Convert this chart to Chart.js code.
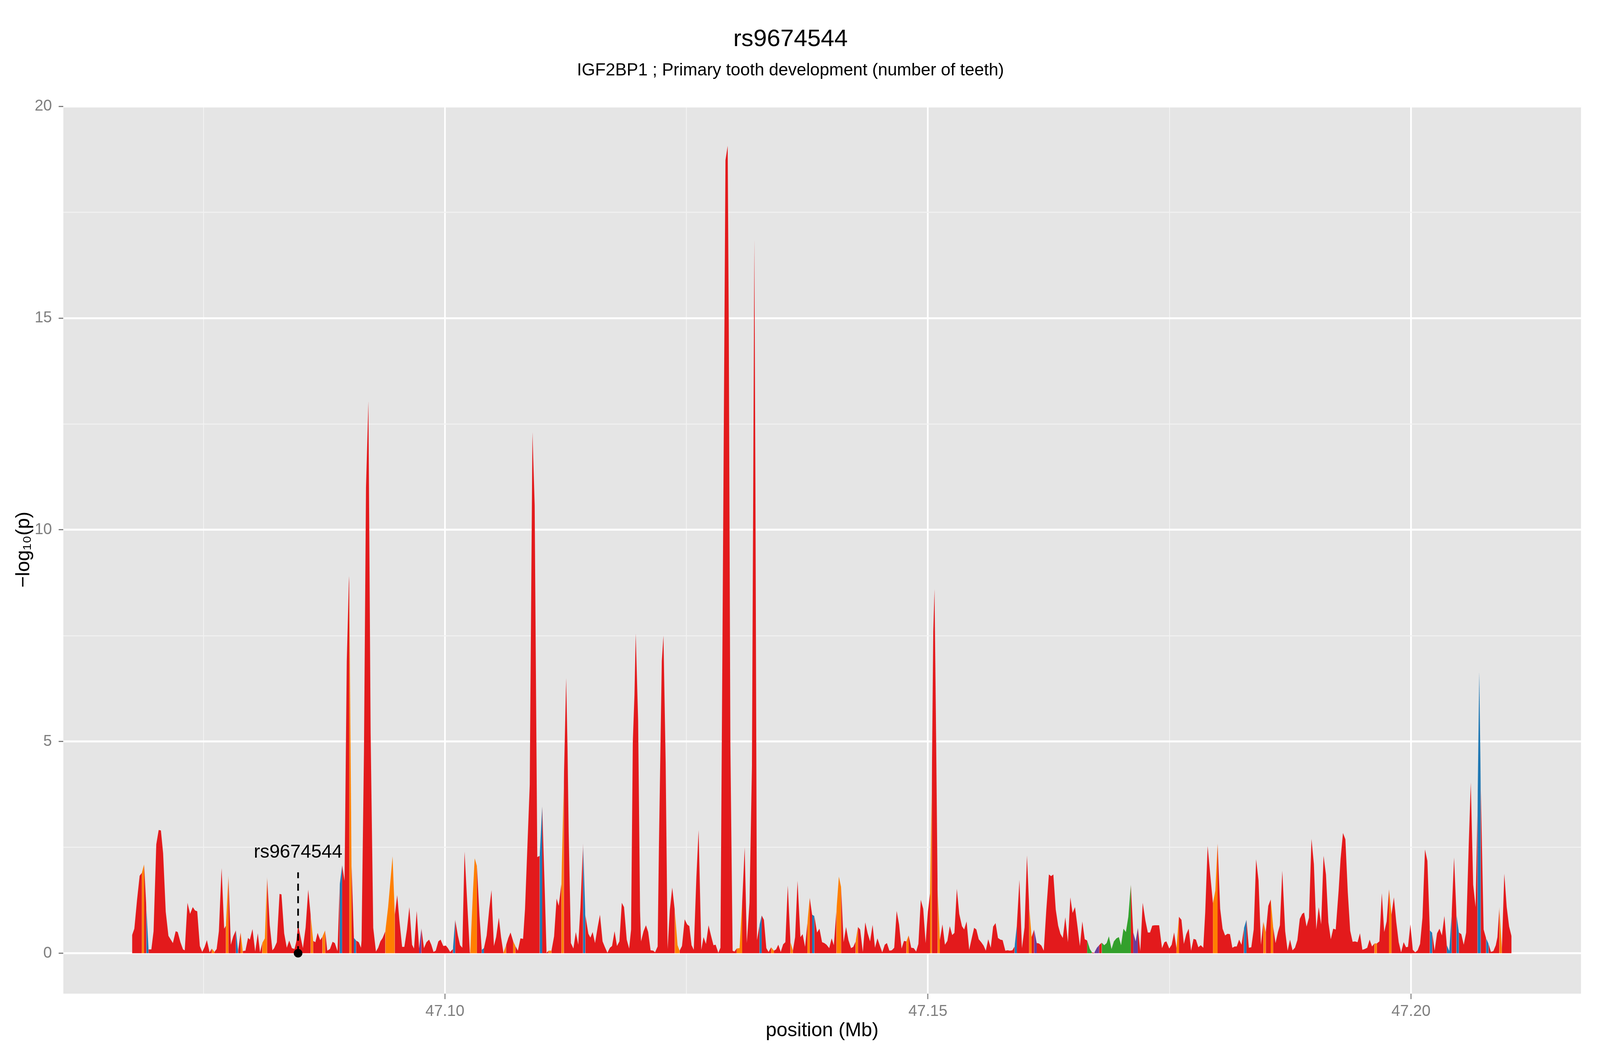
<!DOCTYPE html>
<html>
<head>
<meta charset="utf-8">
<title>rs9674544</title>
<script src="https://cdn.jsdelivr.net/npm/chart.js@4.4.1/dist/chart.umd.min.js"></script>
<style>
  html, body { margin: 0; padding: 0; background: #ffffff; overflow: hidden; }
</style>
</head>
<body>
<canvas id="locusChart"></canvas>
<script>
// positions in Mb, -log10(p) values, LD class of the strip starting at each point
const positions = [
  47.06762, 47.06785, 47.06813, 47.06840, 47.06863, 47.06886, 47.06909, 47.06932, 47.06961, 47.06984,
  47.07012, 47.07037, 47.07060, 47.07083, 47.07110, 47.07138, 47.07184, 47.07213, 47.07234, 47.07262,
  47.07289, 47.07307, 47.07335, 47.07362, 47.07390, 47.07413, 47.07436, 47.07463, 47.07488, 47.07513,
  47.07536, 47.07564, 47.07587, 47.07614, 47.07637, 47.07660, 47.07688, 47.07715, 47.07733, 47.07759,
  47.07784, 47.07809, 47.07836, 47.07859, 47.07885, 47.07907, 47.07935, 47.07962, 47.07981, 47.08008,
  47.08036, 47.08063, 47.08086, 47.08109, 47.08136, 47.08159, 47.08187, 47.08214, 47.08233, 47.08260,
  47.08288, 47.08308, 47.08336, 47.08363, 47.08388, 47.08416, 47.08443, 47.08462, 47.08480, 47.08508,
  47.08530, 47.08558, 47.08585, 47.08611, 47.08636, 47.08659, 47.08682, 47.08709, 47.08732, 47.08760,
  47.08782, 47.08810, 47.08837, 47.08860, 47.08888, 47.08911, 47.08936, 47.08961, 47.08984, 47.09007,
  47.09010, 47.09033, 47.09058, 47.09080, 47.09108, 47.09131, 47.09137, 47.09162, 47.09183, 47.09208,
  47.09231, 47.09258, 47.09286, 47.09309, 47.09332, 47.09355, 47.09383, 47.09412, 47.09458, 47.09481,
  47.09506, 47.09529, 47.09557, 47.09580, 47.09607, 47.09632, 47.09660, 47.09680, 47.09708, 47.09733,
  47.09756, 47.09783, 47.09809, 47.09836, 47.09859, 47.09882, 47.09905, 47.09932, 47.09955, 47.09983,
  47.10010, 47.10031, 47.10054, 47.10083, 47.10106, 47.10134, 47.10157, 47.10180, 47.10203, 47.10258,
  47.10262, 47.10290, 47.10308, 47.10331, 47.10358, 47.10381, 47.10404, 47.10432, 47.10459, 47.10482,
  47.10507, 47.10530, 47.10558, 47.10581, 47.10606, 47.10633, 47.10656, 47.10679, 47.10707, 47.10729,
  47.10755, 47.10782, 47.10809, 47.10829, 47.10878, 47.10906, 47.10929, 47.10956, 47.10981, 47.11007,
  47.11033, 47.11052, 47.11073, 47.11103, 47.11130, 47.11156, 47.11178, 47.11206, 47.11231, 47.11255,
  47.11269, 47.11281, 47.11304, 47.11330, 47.11355, 47.11380, 47.11403, 47.11430, 47.11453, 47.11485,
  47.11506, 47.11529, 47.11554, 47.11582, 47.11605, 47.11632, 47.11655, 47.11682, 47.11708, 47.11730,
  47.11756, 47.11781, 47.11806, 47.11831, 47.11854, 47.11882, 47.11907, 47.11927, 47.11945, 47.11962,
  47.11975, 47.12000, 47.12020, 47.12030, 47.12056, 47.12081, 47.12104, 47.12129, 47.12157, 47.12175,
  47.12202, 47.12215, 47.12245, 47.12262, 47.12285, 47.12305, 47.12328, 47.12353, 47.12379, 47.12408,
  47.12429, 47.12454, 47.12482, 47.12507, 47.12530, 47.12553, 47.12576, 47.12603, 47.12626, 47.12654,
  47.12677, 47.12702, 47.12729, 47.12754, 47.12780, 47.12802, 47.12830, 47.12852, 47.12873, 47.12904,
  47.12927, 47.12938, 47.12955, 47.12978, 47.12997, 47.13020, 47.13050, 47.13077, 47.13103, 47.13125,
  47.13153, 47.13178, 47.13203, 47.13214, 47.13230, 47.13256, 47.13279, 47.13302, 47.13327, 47.13350,
  47.13377, 47.13405, 47.13428, 47.13451, 47.13476, 47.13501, 47.13524, 47.13549, 47.13577, 47.13602,
  47.13625, 47.13650, 47.13680, 47.13703, 47.13728, 47.13753, 47.13776, 47.13801, 47.13824, 47.13852,
  47.13877, 47.13904, 47.13927, 47.13950, 47.13978, 47.14003, 47.14026, 47.14053, 47.14078, 47.14101,
  47.14127, 47.14152, 47.14177, 47.14204, 47.14227, 47.14252, 47.14275, 47.14298, 47.14326, 47.14351,
  47.14376, 47.14401, 47.14427, 47.14452, 47.14477, 47.14502, 47.14527, 47.14553, 47.14575, 47.14601,
  47.14626, 47.14651, 47.14676, 47.14701, 47.14727, 47.14752, 47.14777, 47.14800, 47.14827, 47.14853,
  47.14878, 47.14901, 47.14926, 47.14951, 47.14976, 47.14999, 47.15022, 47.15040, 47.15055, 47.15068,
  47.15085, 47.15100, 47.15123, 47.15150, 47.15176, 47.15201, 47.15226, 47.15251, 47.15274, 47.15299,
  47.15324, 47.15352, 47.15375, 47.15400, 47.15427, 47.15453, 47.15478, 47.15501, 47.15526, 47.15551,
  47.15576, 47.15599, 47.15624, 47.15650, 47.15675, 47.15700, 47.15725, 47.15750, 47.15773, 47.15801,
  47.15824, 47.15849, 47.15874, 47.15897, 47.15920, 47.15947, 47.15973, 47.16000, 47.16025, 47.16048,
  47.16073, 47.16099, 47.16126, 47.16149, 47.16174, 47.16199, 47.16225, 47.16252, 47.16275, 47.16298,
  47.16323, 47.16348, 47.16371, 47.16396, 47.16422, 47.16449, 47.16474, 47.16497, 47.16522, 47.16548,
  47.16573, 47.16598, 47.16623, 47.16648, 47.16676, 47.16698, 47.16721, 47.16749, 47.16772, 47.16799,
  47.16825, 47.16850, 47.16873, 47.16900, 47.16925, 47.16951, 47.16976, 47.16999, 47.17024, 47.17049,
  47.17074, 47.17100, 47.17125, 47.17150, 47.17173, 47.17198, 47.17223, 47.17251, 47.17276, 47.17299,
  47.17322, 47.17347, 47.17367, 47.17393, 47.17423, 47.17448, 47.17468, 47.17498, 47.17523, 47.17548,
  47.17573, 47.17598, 47.17624, 47.17649, 47.17674, 47.17699, 47.17724, 47.17749, 47.17774, 47.17799,
  47.17824, 47.17850, 47.17870, 47.17895, 47.17925, 47.17950, 47.17975, 47.17998, 47.18025, 47.18050,
  47.18076, 47.18101, 47.18126, 47.18151, 47.18176, 47.18196, 47.18221, 47.18246, 47.18271, 47.18297,
  47.18322, 47.18347, 47.18372, 47.18397, 47.18422, 47.18447, 47.18472, 47.18497, 47.18523, 47.18548,
  47.18573, 47.18598, 47.18623, 47.18643, 47.18668, 47.18698, 47.18723, 47.18748, 47.18774, 47.18799,
  47.18824, 47.18849, 47.18874, 47.18894, 47.18919, 47.18944, 47.18970, 47.18995, 47.19020, 47.19045,
  47.19070, 47.19095, 47.19120, 47.19145, 47.19170, 47.19195, 47.19221, 47.19251, 47.19271, 47.19296,
  47.19321, 47.19346, 47.19371, 47.19396, 47.19421, 47.19447, 47.19472, 47.19497, 47.19522, 47.19547,
  47.19572, 47.19597, 47.19622, 47.19647, 47.19673, 47.19698, 47.19723, 47.19748, 47.19773, 47.19798,
  47.19823, 47.19848, 47.19873, 47.19898, 47.19924, 47.19949, 47.19969, 47.19994, 47.20019, 47.20044,
  47.20069, 47.20094, 47.20119, 47.20145, 47.20170, 47.20195, 47.20220, 47.20245, 47.20270, 47.20295,
  47.20320, 47.20346, 47.20371, 47.20396, 47.20421, 47.20446, 47.20471, 47.20496, 47.20521, 47.20546,
  47.20571, 47.20597, 47.20619, 47.20644, 47.20669, 47.20689, 47.20707, 47.20722, 47.20752, 47.20778,
  47.20803, 47.20828, 47.20853, 47.20878, 47.20895, 47.20915, 47.20941, 47.20966, 47.20991, 47.21016,
  47.21041
];

const logP = [
  0.43, 0.58, 1.26, 1.83, 1.90, 2.10, 1.09, 0.09, 0.09, 0.52,
  2.57, 2.91, 2.90, 2.36, 0.98, 0.41, 0.24, 0.52, 0.50, 0.26,
  0.09, 0.07, 1.19, 0.93, 1.09, 1.01, 0.99, 0.17, 0.03, 0.15,
  0.31, 0.02, 0.11, 0.03, 0.10, 0.52, 2.01, 0.58, 0.65, 1.83,
  0.20, 0.40, 0.54, 0.05, 0.49, 0.05, 0.06, 0.36, 0.32, 0.57,
  0.04, 0.47, 0.02, 0.24, 0.35, 1.80, 0.66, 0.07, 0.12, 0.26,
  1.40, 1.39, 0.47, 0.13, 0.30, 0.12, 0.10, 0.28, 0.67, 0.36,
  0.12, 0.61, 1.50, 0.88, 0.29, 0.26, 0.48, 0.31, 0.39, 0.54,
  0.06, 0.10, 0.27, 0.24, 0.05, 1.62, 2.08, 1.71, 6.90, 8.91,
  8.70, 2.10, 0.36, 0.30, 0.26, 0.13, 0.30, 4.77, 11.00, 13.04,
  5.20, 0.60, 0.04, 0.13, 0.28, 0.36, 0.52, 1.09, 2.29, 0.90,
  1.37, 0.77, 0.15, 0.15, 0.56, 1.09, 0.20, 0.11, 1.00, 0.11,
  0.59, 0.12, 0.26, 0.32, 0.20, 0.03, 0.06, 0.28, 0.32, 0.17,
  0.18, 0.12, 0.03, 0.10, 0.79, 0.42, 0.19, 0.13, 2.40, 0.02,
  0.01, 1.44, 2.24, 2.06, 0.88, 0.08, 0.12, 0.42, 1.05, 1.49,
  0.17, 0.38, 0.84, 0.38, 0.01, 0.19, 0.36, 0.49, 0.28, 0.17,
  0.06, 0.35, 0.34, 1.04, 3.98, 12.31, 10.58, 2.27, 2.30, 3.47,
  1.52, 0.01, 0.06, 0.06, 0.40, 1.29, 1.12, 1.65, 4.06, 6.50,
  4.86, 2.87, 0.24, 0.11, 0.50, 0.20, 1.09, 2.59, 0.91, 0.46,
  0.37, 0.50, 0.24, 0.63, 0.91, 0.28, 0.15, 0.01, 0.13, 0.17,
  0.52, 0.17, 0.28, 1.19, 1.09, 0.32, 0.11, 0.56, 5.00, 6.10,
  7.55, 5.50, 1.00, 0.28, 0.52, 0.66, 0.50, 0.07, 0.06, 0.02,
  0.16, 2.50, 6.90, 7.50, 4.50, 0.10, 1.02, 1.55, 1.02, 0.19,
  0.06, 0.17, 0.80, 0.68, 0.64, 0.19, 0.08, 1.80, 2.91, 0.08,
  0.38, 0.22, 0.66, 0.42, 0.19, 0.20, 0.01, 0.13, 7.40, 18.73,
  19.07, 14.90, 4.90, 0.06, 0.04, 0.11, 0.12, 1.20, 2.50, 0.24,
  1.20, 4.40, 16.86, 11.10, 0.31, 0.66, 0.89, 0.79, 0.12, 0.03,
  0.14, 0.06, 0.09, 0.20, 0.03, 0.21, 0.26, 1.60, 0.26, 0.06,
  0.38, 1.71, 0.38, 0.45, 0.15, 0.73, 1.31, 0.91, 0.88, 0.49,
  0.58, 0.26, 0.24, 0.20, 0.12, 0.35, 0.19, 1.02, 1.81, 1.56,
  0.26, 0.62, 0.31, 0.12, 0.15, 0.28, 0.62, 0.56, 0.03, 0.73,
  0.47, 0.28, 0.67, 0.13, 0.35, 0.18, 0.02, 0.20, 0.24, 0.06,
  0.07, 0.13, 1.00, 0.68, 0.11, 0.29, 0.28, 0.42, 0.13, 0.12,
  0.04, 0.22, 1.26, 1.05, 0.24, 0.98, 1.41, 4.00, 7.60, 8.60,
  5.00, 1.50, 0.31, 0.68, 0.20, 0.29, 0.64, 0.43, 0.48, 1.52,
  0.93, 0.64, 0.56, 0.75, 0.08, 0.35, 0.60, 0.56, 0.33, 0.26,
  0.18, 0.06, 0.33, 0.13, 0.63, 0.71, 0.36, 0.32, 0.31, 0.06,
  0.07, 0.06, 0.07, 0.16, 0.65, 1.73, 0.12, 0.61, 2.31, 1.09,
  0.38, 0.56, 0.24, 0.23, 0.18, 0.06, 1.02, 1.86, 1.82, 1.86,
  1.03, 0.65, 0.46, 0.36, 0.85, 0.26, 1.32, 0.95, 1.09, 0.63,
  0.17, 0.75, 0.33, 0.30, 0.10, 0.02, 0.01, 0.13, 0.19, 0.25,
  0.19, 0.24, 0.40, 0.10, 0.28, 0.35, 0.38, 0.19, 0.58, 0.50,
  0.86, 1.62, 0.49, 0.28, 0.60, 0.05, 1.19, 0.77, 0.49, 0.49,
  0.65, 0.66, 0.66, 0.66, 0.12, 0.26, 0.28, 0.11, 0.20, 0.49,
  0.12, 0.86, 0.79, 0.22, 0.45, 0.58, 0.06, 0.34, 0.32, 0.14,
  0.19, 0.13, 0.96, 2.53, 1.79, 1.18, 1.48, 2.59, 1.05, 0.58,
  0.42, 0.46, 0.45, 0.13, 0.16, 0.16, 0.32, 0.20, 0.59, 0.79,
  0.13, 0.14, 0.56, 2.22, 1.72, 0.20, 0.75, 0.49, 1.12, 1.27,
  0.63, 0.24, 0.50, 0.66, 1.95, 0.52, 0.06, 0.32, 0.07, 0.13,
  0.31, 0.81, 0.93, 0.96, 0.63, 0.84, 2.70, 2.11, 0.56, 1.09,
  0.68, 2.30, 1.86, 0.73, 0.33, 0.58, 0.56, 1.48, 2.22, 2.84,
  2.69, 1.44, 0.53, 0.27, 0.28, 0.26, 0.47, 0.08, 0.10, 0.13,
  0.32, 0.16, 0.23, 0.23, 0.28, 1.42, 0.50, 0.75, 1.51, 0.91,
  1.32, 0.73, 0.26, 0.02, 0.26, 0.14, 0.15, 0.68, 0.08, 0.02,
  0.07, 0.22, 0.84, 2.45, 2.18, 0.54, 0.48, 0.06, 0.47, 0.58,
  0.42, 0.88, 0.19, 0.05, 0.91, 2.26, 0.91, 0.49, 0.45, 0.20,
  0.49, 2.50, 4.03, 1.62, 1.09, 3.50, 6.64, 4.00, 0.56, 0.35,
  0.22, 0.03, 0.05, 0.19, 0.38, 1.09, 0.10, 1.88, 1.09, 0.63,
  0.40
];

// r = red, o = orange, b = blue, g = green, p = purple
const ldClass = [
  'r','r','r','r','o','r','b','r','r','r',
  'r','r','r','r','r','r','r','r','r','r',
  'r','r','r','r','r','r','r','r','r','r',
  'r','r','o','r','r','r','r','r','o','r',
  'r','r','b','r','o','r','r','r','r','r',
  'r','r','r','o','o','r','r','r','r','r',
  'r','r','r','r','r','r','r','r','r','r',
  'r','r','r','o','r','r','r','r','o','r',
  'r','r','r','r','r','b','r','r','r','r',
  'o','r','b','r','r','r','r','r','r','r',
  'r','r','r','r','r','r','o','o','o','r',
  'r','r','r','r','r','r','r','r','r','p',
  'r','r','r','r','r','r','r','r','r','r',
  'r','r','r','b','r','r','r','r','r','r',
  'o','o','o','r','r','b','r','r','r','r',
  'r','r','r','r','o','r','r','r','o','r',
  'r','r','r','r','r','r','r','r','b','r',
  'r','r','o','r','r','r','r','o','r','r',
  'r','r','r','r','r','r','r','b','r','r',
  'r','r','r','r','r','r','r','r','r','r',
  'r','r','r','r','r','r','r','r','r','r',
  'r','r','r','r','r','r','r','r','r','r',
  'r','r','r','r','r','r','r','r','o','o',
  'r','r','r','r','r','r','r','r','r','r',
  'r','r','r','r','r','r','r','r','r','r',
  'r','r','r','r','r','o','o','r','r','r',
  'r','r','r','r','r','b','r','r','r','r',
  'o','r','r','r','r','r','r','r','o','r',
  'r','r','r','r','r','o','r','b','r','r',
  'r','r','r','r','r','r','r','o','o','r',
  'r','r','r','r','r','o','r','r','r','r',
  'r','r','r','r','r','r','r','r','r','r',
  'r','r','r','r','r','r','o','r','r','r',
  'r','r','r','r','r','r','o','r','r','r',
  'r','o','r','r','r','r','r','r','r','r',
  'r','r','r','r','r','r','r','r','r','r',
  'r','r','r','r','r','r','r','r','r','r',
  'r','r','r','b','r','r','r','r','r','o',
  'r','p','r','r','r','r','r','r','r','r',
  'r','r','r','r','r','r','r','r','r','r',
  'r','r','r','g','g','r','p','p','r','g',
  'g','g','g','g','g','g','g','g','g','g',
  'g','r','p','p','r','r','r','r','r','r',
  'r','r','r','r','r','r','r','r','r','r',
  'o','r','r','r','r','r','r','r','r','r',
  'r','r','r','r','r','o','o','r','r','r',
  'r','r','r','r','r','r','r','r','b','r',
  'r','r','r','r','r','r','o','r','r','o',
  'r','r','r','r','r','r','r','r','r','r',
  'r','r','r','r','r','r','r','r','r','r',
  'r','r','r','r','r','r','r','r','r','r',
  'r','r','r','r','r','r','r','r','r','r',
  'r','r','o','r','r','r','r','r','o','r',
  'r','r','r','r','r','r','r','r','r','r',
  'r','r','r','r','r','b','r','r','r','r',
  'r','r','b','b','r','r','b','r','r','r',
  'r','r','r','r','r','b','b','r','r','b',
  'r','r','r','r','r','o','r','r','r','r',
  'r'
];

const ldColors = { r: '#E31A1C', o: '#FF7F00', b: '#1F78B4', g: '#33A02C', p: '#6A3D9A' };

const xTicks = [47.10, 47.15, 47.20];
const yTicks = [0, 5, 10, 15, 20];

const snpName = 'rs9674544';
const snpPos = 47.0848;
const snpLineTop = 1.91;
const snpLabelY = 2.38;

const FONT = "'Liberation Sans', Arial, Helvetica, 'DejaVu Sans', sans-serif";

// fit the page: the layout was measured on a 4800 x 2700 frame
const W = window.innerWidth;
const H = window.innerHeight;
const sx = W / 4800;
const sy = H / 2700;

const canvas = document.getElementById('locusChart');
canvas.width = W;
canvas.height = H;
canvas.style.width = W + 'px';
canvas.style.height = H + 'px';

const isMajorX = v => xTicks.some(t => Math.abs(t - v) < 1e-6);
const isMajorY = v => yTicks.some(t => Math.abs(t - v) < 1e-6);

const panelBackground = {
  id: 'panelBackground',
  beforeDraw(chart) {
    const { ctx, chartArea: a } = chart;
    ctx.save();
    ctx.fillStyle = '#E5E5E5';
    ctx.fillRect(a.left, a.top, a.right - a.left, a.bottom - a.top);
    ctx.restore();
  }
};

const snpLabel = {
  id: 'snpLabel',
  afterDatasetsDraw(chart) {
    const { ctx, scales } = chart;
    ctx.save();
    ctx.font = Math.round(48 * sy) + 'px ' + FONT;
    ctx.fillStyle = '#000000';
    ctx.textAlign = 'center';
    ctx.textBaseline = 'middle';
    ctx.fillText(snpName, scales.x.getPixelForValue(snpPos), scales.y.getPixelForValue(snpLabelY));
    ctx.restore();
  }
};

const points = positions.map((x, i) => ({ x: x, y: logP[i] }));

new Chart(canvas, {
  type: 'line',
  data: {
    datasets: [
      {
        type: 'scatter',
        data: [{ x: snpPos, y: 0 }],
        pointRadius: 11 * sy,
        pointBackgroundColor: '#000000',
        pointBorderWidth: 0,
        order: 1
      },
      {
        type: 'line',
        data: [{ x: snpPos, y: 0 }, { x: snpPos, y: snpLineTop }],
        borderColor: '#000000',
        borderWidth: 5 * sx,
        borderDash: [18 * sy, 14 * sy],
        pointRadius: 0,
        fill: false,
        order: 2
      },
      {
        type: 'line',
        data: points,
        fill: 'origin',
        backgroundColor: ldColors.r,
        borderColor: 'rgba(0,0,0,0)',
        borderWidth: 0,
        pointRadius: 0,
        tension: 0,
        order: 3,
        segment: {
          backgroundColor: ctx => ldColors[ldClass[ctx.p0DataIndex]] || ldColors.r
        }
      }
    ]
  },
  options: {
    responsive: false,
    animation: false,
    devicePixelRatio: 1,
    layout: { padding: { top: 0, right: 57 * sx, bottom: 0, left: 0 } },
    plugins: {
      legend: { display: false },
      tooltip: { enabled: false },
      title: {
        display: true,
        text: 'rs9674544',
        color: '#000000',
        font: { family: FONT, size: 62 * sy, weight: 'normal' },
        padding: { top: 64 * sy, bottom: 16 * sy }
      },
      subtitle: {
        display: true,
        text: 'IGF2BP1 ; Primary tooth development (number of teeth)',
        color: '#000000',
        font: { family: FONT, size: 44 * sy, weight: 'normal' },
        padding: { top: 0, bottom: 63 * sy }
      }
    },
    scales: {
      x: {
        type: 'linear',
        min: 47.0605,
        max: 47.2176,
        afterFit(scale) { scale.height = 157 * sy; },
        border: { display: false },
        grid: {
          color: c => isMajorX(c.tick.value) ? '#FFFFFF' : '#F2F2F2',
          lineWidth: c => (isMajorX(c.tick.value) ? 5 : 2.5) * sx,
          tickColor: c => isMajorX(c.tick.value) ? '#7F7F7F' : 'rgba(0,0,0,0)',
          tickWidth: 3 * sx,
          tickLength: 14 * sy
        },
        ticks: {
          stepSize: 0.025,
          includeBounds: false,
          autoSkip: false,
          maxRotation: 0,
          padding: 8 * sy,
          color: '#7F7F7F',
          font: { family: FONT, size: 40 * sy },
          callback: v => isMajorX(v) ? v.toFixed(2) : ''
        },
        title: {
          display: true,
          text: 'position (Mb)',
          color: '#000000',
          font: { family: FONT, size: 50 * sy },
          padding: { top: 0, bottom: 32 * sy }
        }
      },
      y: {
        type: 'linear',
        min: -0.955,
        max: 20.02,
        afterFit(scale) { scale.width = 190 * sx; },
        border: { display: false },
        grid: {
          color: c => isMajorY(c.tick.value) ? '#FFFFFF' : '#F2F2F2',
          lineWidth: c => (isMajorY(c.tick.value) ? 5 : 2.5) * sy,
          tickColor: c => isMajorY(c.tick.value) ? '#7F7F7F' : 'rgba(0,0,0,0)',
          tickWidth: 3 * sy,
          tickLength: 14 * sx
        },
        ticks: {
          stepSize: 2.5,
          includeBounds: false,
          autoSkip: false,
          maxTicksLimit: 20,
          padding: 20 * sx,
          color: '#7F7F7F',
          font: { family: FONT, size: 40 * sy },
          callback: v => isMajorY(v) ? String(v) : ''
        },
        title: {
          display: true,
          text: '−log₁₀(p)',
          color: '#000000',
          font: { family: FONT, size: 50 * sy },
          padding: { top: 37 * sx, bottom: 0 }
        }
      }
    }
  },
  plugins: [panelBackground, snpLabel]
});
</script>
</body>
</html>
